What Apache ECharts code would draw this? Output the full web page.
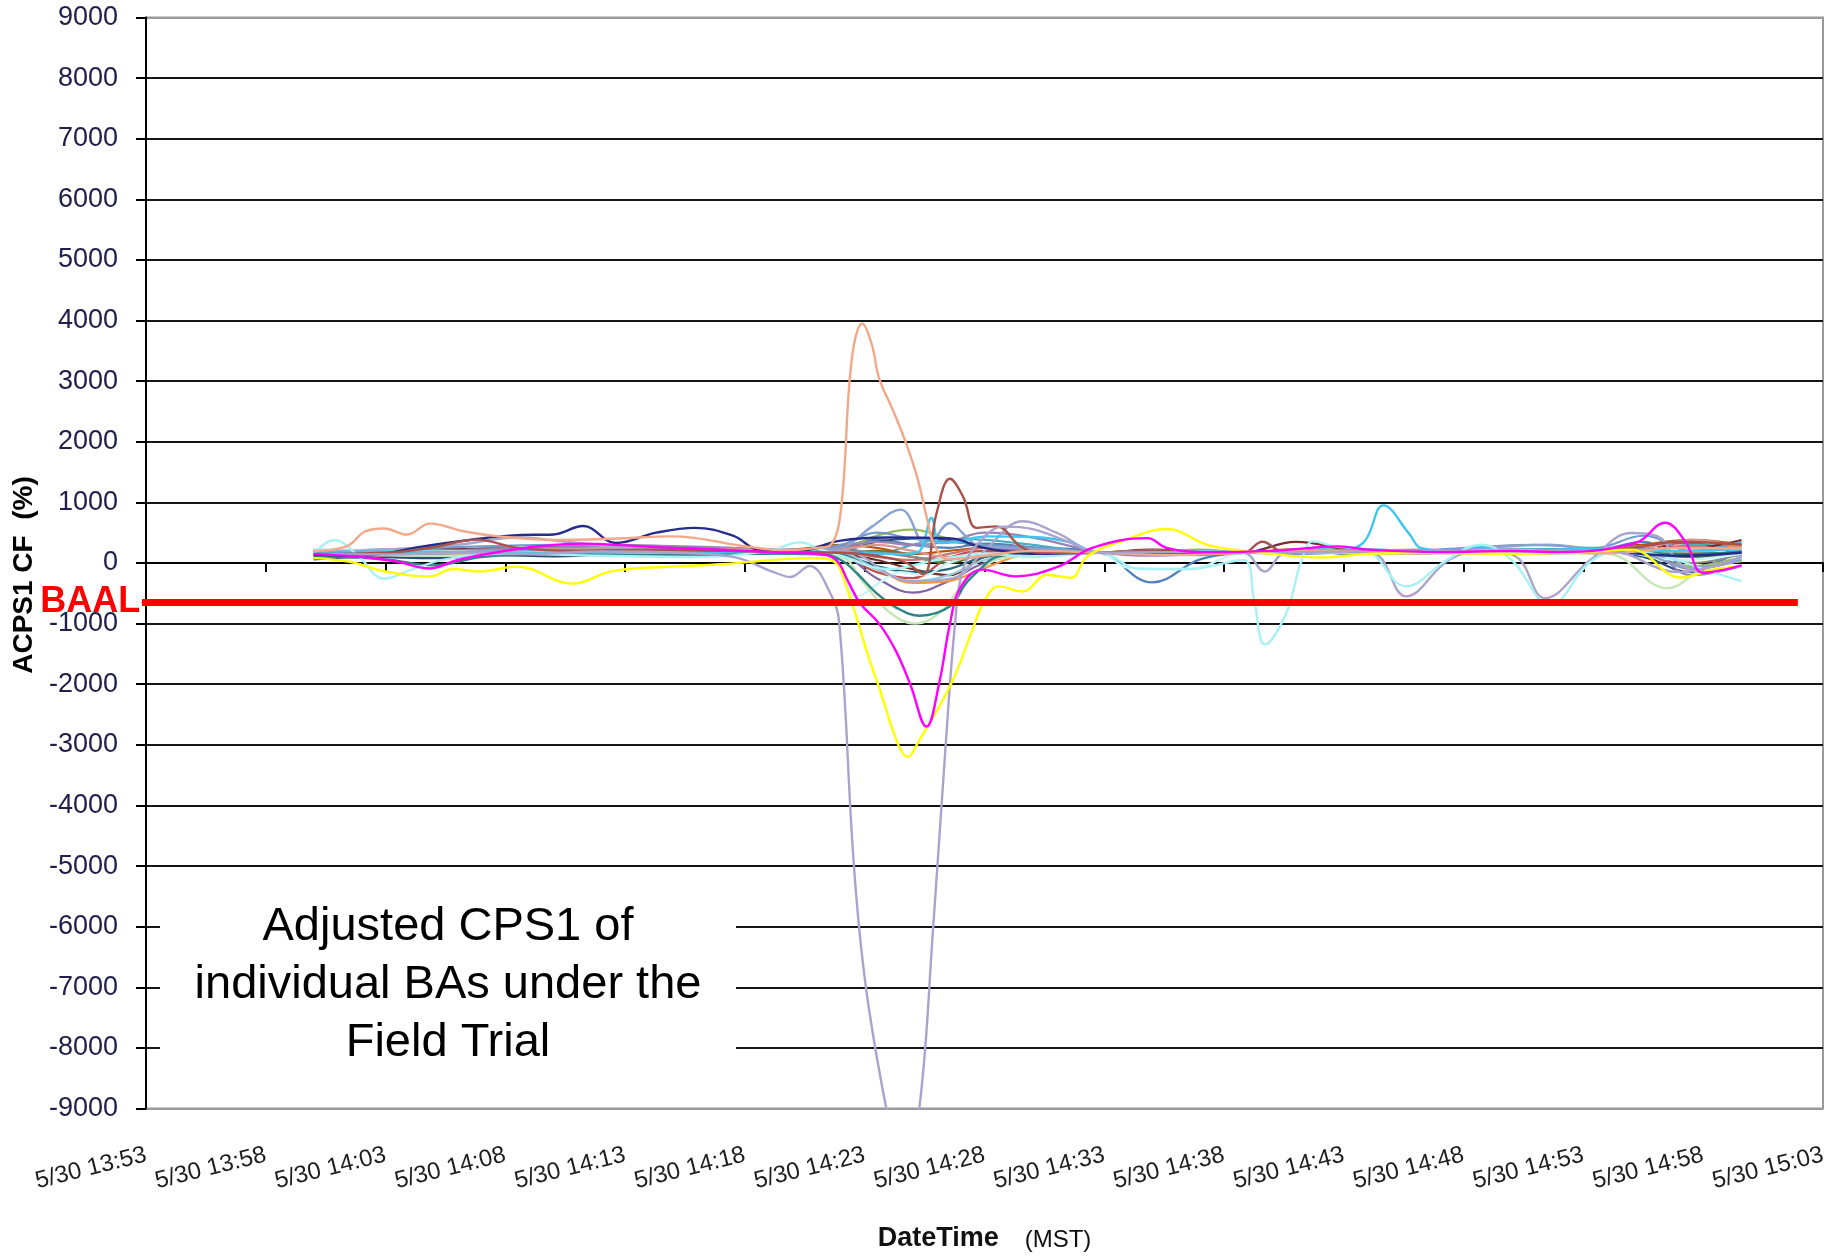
<!DOCTYPE html>
<html>
<head>
<meta charset="utf-8">
<script src="https://cdn.jsdelivr.net/npm/echarts@6/dist/echarts.min.js"></script>
<style>html,body{margin:0;padding:0;background:#fff}#chart{width:1844px;height:1256px}</style>
</head>
<body>
<div id="chart"></div>
<script>
// ---------- DATA ----------
// x-axis tick labels (axis counts minutes after 5/30 13:53, one tick every 5 minutes)
const xTickLabels = ['5/30 13:53','5/30 13:58','5/30 14:03','5/30 14:08','5/30 14:13','5/30 14:18','5/30 14:23',
  '5/30 14:28','5/30 14:33','5/30 14:38','5/30 14:43','5/30 14:48','5/30 14:53','5/30 14:58','5/30 15:03'];
// series times below are minutes after 14:00
const DATA_OFFSET = 7; // 14:00 is 7 minutes after 13:53

const baalLevel = -650;
const baalTimes = [-0.18, 68.95]; // minutes after 13:53 (line start / end)

// band of BAs sampled on a shared time list
const bandTimes = [0,2.5,5,7.5,10,12.5,15,17.5,20,22,23.5,25,26.5,28,30,32.8,35,37,38.8,41,43.5,46,48.5,51,53.5,55.5,57.5,59.6];
const bandA = [150,170,200,180,220,210,190,200,180,260,380,300,250,320,260,175,-320,60,170,200,190,180,220,200,210,350,-80,200];
const bandB = [120,200,150,250,180,230,170,210,160,120,-150,-250,80,200,190,165,200,160,165,230,180,210,170,230,180,260,330,120];
const bandC = [180,150,200,170,210,160,220,180,200,230,450,550,400,280,200,172,180,220,172,170,200,160,200,180,200,150,-50,100];
const bandD = [100,130,170,150,190,170,160,180,150,120,-250,-490,-300,0,150,168,150,130,168,180,160,190,170,200,170,200,-100,50];
const bandE = [200,180,220,210,190,230,200,220,190,250,150,300,400,380,300,178,200,210,178,220,230,200,240,230,220,180,300,250];
const bandF = [140,160,150,190,170,190,170,160,190,150,-100,-330,-300,-80,150,170,190,160,170,160,200,180,160,190,170,220,160,330];
const bandG = [60,100,80,130,110,140,120,150,170,200,350,400,380,250,180,165,140,170,165,190,170,200,180,170,190,100,-150,-50];
const bandH = [210,190,240,220,260,230,250,220,200,150,50,-100,-200,100,200,173,220,180,173,350,210,190,210,180,200,300,250,380];
const bandI = [170,200,180,210,180,200,190,210,180,160,200,100,0,150,180,170,160,180,170,180,190,170,180,200,190,160,100,180];
const bandJ = [130,150,120,160,140,170,150,170,160,140,-50,-150,-100,100,170,168,170,150,168,200,150,170,190,160,180,250,120,200];
const bandK = [160,140,190,170,200,180,210,190,220,300,250,150,200,250,220,175,200,190,175,160,210,200,190,210,200,300,380,300];
const bandL = [190,220,250,280,300,260,240,230,210,300,500,400,350,300,250,172,150,190,172,150,180,200,260,300,250,450,200,350];
const bandM = [90,120,160,140,180,200,170,190,170,180,100,50,150,250,220,170,210,170,170,180,190,160,170,190,180,200,280,150];
const bandN = [170,160,190,230,260,300,280,250,220,260,350,300,350,500,420,180,120,150,180,200,170,180,220,190,200,280,-200,-50];
const bandO = [220,200,180,200,170,190,200,180,200,170,-100,-300,-200,50,170,172,190,200,172,170,210,190,180,170,190,150,200,100];
const bandQ = [150,190,210,190,230,250,210,230,200,220,300,200,100,150,200,170,180,160,170,190,200,220,200,180,170,240,380,260];
const bandR = [180,170,200,190,210,190,200,190,210,200,180,100,50,120,170,170,180,170,170,190,180,200,190,200,180,220,0,150];

// individually traced BAs: [minutes after 14:00, ACPS1 CF %]
const paleCyanBA = [[0,220],[4,200],[8,180],[12,210],[16,190],[20,170],[21.5,150],[22.7,-550],[23.7,-300],[24.5,-150],[25.5,-200],[26.5,0],[28,150],[32.8,170],[34,-80],[36.5,-100],[38.8,170],[42,200],[46,190],[50,170],[54,200],[57,50],[59.6,150]];
const lightGreenBA = [[0,150],[5,120],[10,170],[15,160],[20,170],[22,100],[23,-350],[24,-800],[25.1,-1000],[26.2,-800],[27,-400],[28,-50],[29,100],[32.8,170],[38.8,170],[45,170],[50,160],[54,150],[56.5,-415],[58,-100],[59.6,30]];
const tealBA = [[0,120],[3,60],[5,-40],[7,100],[10,150],[14,130],[18,150],[21,160],[22,50],[22.66,-165],[23.5,-500],[24.33,-740],[25.3,-870],[26.56,-715],[27.2,-350],[27.8,-110],[28.5,100],[30.5,180],[32.8,170],[35,160],[38.8,170],[42,180],[46,200],[50,170],[54,200],[57,150],[59.6,180]];
const blueGrayBA = [[0,180],[4,150],[8,200],[12,220],[16,200],[19,180],[21,220],[22,250],[23.3,600],[24.5,880],[25.6,280],[26.56,660],[27.2,450],[27.8,275],[29,250],[31,220],[32.8,170],[35,200],[38.8,170],[42,200],[46,180],[49,260],[51.5,300],[53.5,220],[55.5,150],[57.5,-80],[59.6,50]];
const lavGrayBA = [[0,200],[3,220],[6,300],[8.5,420],[10.5,350],[13,250],[16,200],[19,180],[22,200],[25,-300],[26.7,-250],[28,200],[29.6,690],[31,500],[32.8,170],[35,150],[38.8,170],[39.7,-140],[40.5,150],[43,200],[44.3,150],[45.6,-550],[47.4,55],[48.8,200],[50.2,100],[51.4,-580],[53.3,55],[55,495],[56.1,440],[57,0],[58,-150],[59.6,-50]];
const skyBlueBA = [[0,170],[4,190],[8,160],[12,180],[16,170],[20,190],[23,160],[24.7,150],[25.3,200],[25.79,742],[26.14,330],[26.8,350],[28.1,440],[30,430],[31.5,350],[32.8,170],[35,180],[38.8,170],[41,190],[42.5,200],[43.8,330],[44.65,950],[45.75,470],[46.2,250],[47.5,200],[48.55,275],[50,180],[53,230],[56,200],[59.6,220]];
const lightCyanBA = [[0,150],[0.85,380],[1.9,100],[2.93,-260],[4,-120],[5.5,60],[8,150],[12,120],[16,100],[19,200],[20.3,340],[21.2,220],[22,120],[24,-100],[26,50],[28,150],[30,100],[32.8,170],[34.5,-100],[36.5,-100],[38.8,50],[39.25,-600],[39.7,-1345],[40.6,-825],[41.2,0],[41.72,357],[42.6,275],[44,200],[45.6,-385],[47.3,50],[48.7,300],[50,50],[51.6,-690],[53.4,55],[55,200],[56.5,100],[58,-100],[59.6,-300]];
const navyBA = [[0,140],[2,120],[4.5,270],[6.5,380],[8.5,460],[10,470],[11.25,610],[12.6,330],[14.3,500],[15.9,580],[17.5,450],[18.6,210],[20,180],[22,370],[24,420],[26.5,410],[28,250],[30,150],[32.8,170],[35,160],[38.8,170],[42,190],[46,170],[50,190],[54,180],[57,120],[59.6,170]];
const brownBA = [[0,150],[3,170],[5,260],[6.8,385],[8.5,250],[11,200],[14,220],[17,200],[20,180],[22,170],[23.5,120],[24.75,0],[25.44,-190],[26.0,825],[26.56,1390],[27.1,1100],[27.67,580],[28.5,605],[29.5,275],[30.3,170],[32.8,170],[35,200],[37,180],[38.8,170],[39.6,350],[40.5,180],[43,200],[46,190],[49,200],[52,180],[55,250],[57,350],[59.6,300]];
const salmonBA = [[0,200],[1.4,280],[2.14,520],[2.93,570],[3.9,470],[4.85,650],[6.3,520],[7.73,440],[10.13,380],[12.5,400],[14.93,440],[18.1,270],[19.73,210],[21,250],[21.55,290],[22,850],[22.45,3325],[22.9,3950],[23.3,3600],[23.6,3050],[24.2,2500],[24.75,1950],[25.2,1400],[25.6,735],[25.9,300],[26.5,60],[28,120],[30,200],[32.8,170],[36,130],[38.8,170],[42,200],[46,180],[50,220],[54,160],[57,250],[59.6,240]];
const lavenderBA = [[0,150],[3,140],[6,170],[9,150],[12,190],[15,170],[17.5,100],[19.2,-150],[19.9,-230],[20.7,-50],[21.55,-490],[21.94,-1000],[22.55,-5000],[23.05,-7000],[23.9,-9000],[24.6,-10200],[25.28,-9000],[25.86,-6000],[26.38,-3000],[26.77,-1000],[27.1,-100],[27.8,350],[28.8,600],[30,560],[31.5,350],[32.8,170],[35,180],[38.8,170],[42,180],[46,200],[50,180],[54,200],[57,-150],[59.6,100]];
const yellowBA = [[0,80],[1.5,20],[3,-140],[4.85,-220],[5.8,-100],[6.94,-140],[8.5,-60],[10.8,-340],[12.5,-130],[14.9,-60],[17,-20],[19.5,60],[21,80],[21.8,0],[22.2,-350],[22.66,-900],[23.2,-1600],[23.6,-2050],[24.4,-3000],[24.8,-3200],[25.17,-3000],[26.6,-2000],[27.5,-1100],[27.95,-660],[28.6,-385],[29.6,-470],[30.6,-195],[31.6,-245],[32.3,110],[33.9,385],[35.6,560],[37.3,300],[38.4,220],[40,150],[42,90],[44,150],[47,170],[50,150],[53,180],[55,220],[57.07,-240],[58.5,-100],[59.6,-60]];
const magentaBA = [[0,150],[2,100],[3.5,20],[4.85,-90],[6,50],[8,200],[9.5,280],[11.25,320],[13,290],[15,250],[17,220],[19,180],[21,150],[21.8,50],[22.3,-300],[22.8,-660],[23.6,-1000],[24.3,-1450],[24.9,-2000],[25.58,-2700],[26.1,-2000],[26.56,-1000],[27.0,-400],[27.9,-110],[29.3,-220],[31.1,-55],[32.5,250],[34.8,410],[35.6,250],[37,180],[40,200],[42.8,275],[44,220],[47,180],[50,200],[52,180],[55.2,335],[56.4,663],[57.25,357],[58,-160],[59.6,-40]];

// ---------- STYLES ----------
const FF = '"Liberation Sans", Arial, Helvetica, sans-serif';
const bandSets = [bandA,bandB,bandC,bandD,bandE,bandF,bandG,bandH,bandI,bandJ,bandK,bandL,bandM,bandN,bandO,bandQ,bandR];
const bandColors = ['#4F81BD','#C0504D','#9BBB59','#8064A2','#4BACC6','#F79646','#2C4D75','#772C2A','#5F7530','#276A7C','#B65708','#729ACA','#CD7371','#9983B5','#93CDDD','#D99694','#8C8C8C'];
const traced = [
  [paleCyanBA,'#C8F5F8'],[lightGreenBA,'#C6E7B5'],[tealBA,'#2E8585'],[blueGrayBA,'#8AA2D0'],
  [lavGrayBA,'#A9A6CB'],[skyBlueBA,'#3CC6F0'],[lightCyanBA,'#A8F2F6'],[navyBA,'#262C8C'],
  [brownBA,'#A9524C'],[salmonBA,'#F2A889'],[lavenderBA,'#ABA3CD'],[yellowBA,'#FFFF00'],[magentaBA,'#FF00FF']
];

function mkLine(data, color, width) {
  return {type:'line', data:data, smooth:0.4, symbol:'none', showSymbol:false,
    lineStyle:{color:color, width:width||2}, itemStyle:{color:color},
    silent:true, animation:false, z:2};
}
const series = [];
bandSets.forEach((vals,i)=>{
  series.push(mkLine(bandTimes.map((t,k)=>[t+DATA_OFFSET, vals[k]]), bandColors[i], 2.2));
});
traced.forEach(([arr,color])=>{
  series.push(mkLine(arr.map(p=>[p[0]+DATA_OFFSET, p[1]]), color, 2.4));
});
series.push({
  type:'line', clip:false, silent:true, animation:false, z:6,
  symbol:'circle', symbolSize:1, showSymbol:true,
  lineStyle:{color:'#FF0000', width:7, cap:'butt'}, itemStyle:{color:'#FF0000'},
  data:[
    {value:[baalTimes[0], baalLevel], label:{show:true, position:'left', distance:1, formatter:'BAAL',
      color:'#FF0000', fontSize:36, fontWeight:'bold', fontFamily:FF}},
    [baalTimes[1], baalLevel]
  ]
});

const splitColors = [];
for (let i=0;i<19;i++) splitColors.push((i===0||i===18)?'#9a9a9a':'#151515');

const option = {
  backgroundColor:'#ffffff',
  animation:false,
  textStyle:{fontFamily:FF},
  grid:{left:146, right:21, top:17.5, bottom:147.5, show:true, borderColor:'#9a9a9a', borderWidth:2,
    backgroundColor:'transparent', containLabel:false, outerBoundsMode:'none'},
  xAxis:[
    {type:'value', min:0, max:70, interval:5, position:'bottom',
      axisLine:{show:false, onZero:false}, axisTick:{show:false}, splitLine:{show:false},
      axisLabel:{rotate:14, margin:46, fontSize:24, color:'#1e1e1e', fontFamily:FF,
        formatter:(v)=>xTickLabels[Math.round(v/5)]},
      name:'{b|DateTime}{n|(MST)}', nameLocation:'middle', nameGap:116,
      nameTextStyle:{rich:{
        b:{fontSize:27, fontWeight:'bold', color:'#111', fontFamily:FF},
        n:{fontSize:24, color:'#111', fontFamily:FF, padding:[4,0,0,26]}
      }}
    },
    {type:'value', min:0, max:70, interval:5, position:'bottom',
      axisLine:{show:true, onZero:true, lineStyle:{color:'#000', width:2}},
      axisTick:{show:true, length:9, lineStyle:{color:'#000', width:2}},
      axisLabel:{show:false}, splitLine:{show:false}
    }
  ],
  yAxis:{type:'value', min:-9000, max:9000, interval:1000,
    axisLine:{show:true, onZero:false, lineStyle:{color:'#000', width:2}},
    axisTick:{show:true, length:10, lineStyle:{color:'#000', width:2}},
    axisLabel:{fontSize:27, color:'#20204a', margin:28, fontFamily:FF, formatter:(v)=>String(v)},
    splitLine:{show:true, lineStyle:{color:splitColors, width:2}},
    name:'ACPS1 CF  (%)', nameLocation:'middle', nameRotate:90, nameGap:100,
    nameTextStyle:{fontSize:28, fontWeight:'bold', color:'#000', fontFamily:FF, padding:[0,24,0,0]}
  },
  series:series,
  graphic:[
    {type:'rect', silent:true, z:10, shape:{x:160, y:872, width:576, height:232}, style:{fill:'#ffffff'}},
    {type:'text', silent:true, z:11, x:448, y:985,
      style:{text:'Adjusted CPS1 of\nindividual BAs under the\nField Trial', fontSize:47, fontFamily:FF,
        fill:'#000', align:'center', verticalAlign:'middle', lineHeight:58}}
  ]
};
const chart = echarts.init(document.getElementById('chart'), null, {renderer:'canvas'});
chart.setOption(option);
</script>
</body>
</html>
